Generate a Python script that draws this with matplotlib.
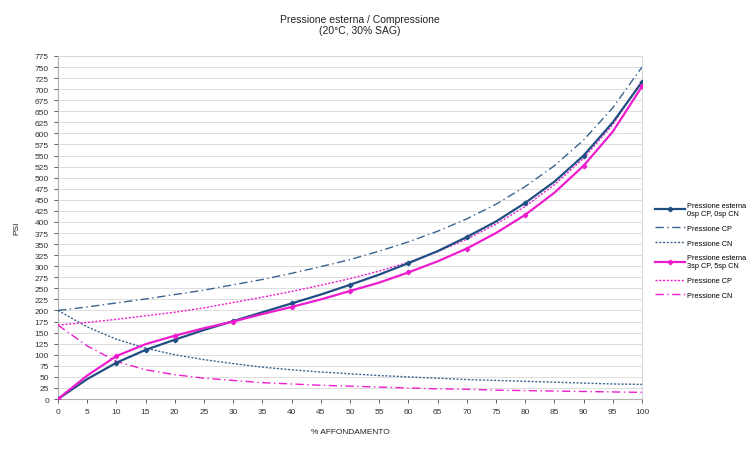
import matplotlib
matplotlib.use("Agg")
import matplotlib.pyplot as plt

plt.rcParams['font.family'] = ['Liberation Sans Narrow', 'Liberation Sans', 'DejaVu Sans']

x = [0, 5, 10, 15, 20, 25, 30, 35, 40, 45, 50, 55, 60, 65, 70, 75, 80, 85, 90, 95, 100]

blue_main = [0, 45, 82, 111, 134, 156, 176, 196, 216, 236, 258, 281, 307, 334, 366, 401, 443, 491, 550, 625, 716]
blue_cp = [200, 208, 217, 226, 236, 246, 258, 270, 284, 299, 315, 334, 355, 379, 407, 440, 480, 527, 585, 658, 750]
blue_cn = [200, 163, 135, 115, 100, 89, 80, 72, 66, 61, 57, 53, 50, 47, 44, 42, 40, 38, 36, 34, 33]

pink_main = [0, 53, 97, 124, 143, 160, 175, 192, 208, 225, 244, 263, 286, 311, 340, 375, 416, 466, 527, 604, 706]
pink_cp = [167, 173, 180, 188, 196, 206, 218, 230, 243, 257, 272, 289, 309, 333, 361, 395, 435, 484, 544, 620, 720]
pink_cn = [167, 120, 85, 66, 55, 47, 42, 37, 34, 31, 29, 27, 25, 23, 22, 20, 19, 18, 17, 16, 15]

labels = ["Pressione esterna\n0sp CP, 0sp CN", "Pressione CP", "Pressione CN",
          "Pressione esterna\n3sp CP, 5sp CN", "Pressione CP", "Pressione CN"]

x_ticks = list(range(0, 101, 5))
y_ticks = list(range(0, 776, 25))

blue = '#1f4f82'
blue2 = '#3a648f'
pink = '#ee1ccf'

fig = plt.figure(figsize=(7.5, 4.52), dpi=100)
ax = fig.add_axes([0.0773, 0.115, 0.7787, 0.759])

blue_marks = [i for i, v in enumerate(x) if v % 10 == 0 or v == 15]
pink_marks = [i for i, v in enumerate(x) if v % 10 == 0]

ax.plot(x, blue_main, color=blue, lw=1.6, marker='D', ms=2.3, markevery=blue_marks, label=labels[0], zorder=5)
ax.plot(x, blue_cp, color=blue2, lw=1.0, ls=(0, (6, 2.5, 1, 2.5)), label=labels[1], zorder=4)
ax.plot(x, blue_cn, color=blue2, lw=1.0, ls=(0, (1.5, 1.2)), label=labels[2], zorder=4)
ax.plot(x, pink_main, color=pink, lw=1.6, marker='D', ms=2.3, markevery=pink_marks, label=labels[3], zorder=5)
ax.plot(x, pink_cp, color=pink, lw=1.0, ls=(0, (1.5, 1.2)), label=labels[4], zorder=4)
ax.plot(x, pink_cn, color=pink, lw=1.0, ls=(0, (6, 2.5, 1, 2.5)), label=labels[5], zorder=4)

ax.set_xlim(0, 100)
ax.set_ylim(0, 775)
ax.set_xticks(x_ticks)
ax.set_yticks(y_ticks)
ax.tick_params(labelsize=6, colors='#444444', length=3, width=0.6, direction='out')
for lab in ax.get_xticklabels() + ax.get_yticklabels():
    lab.set_color('#333333')
ax.grid(axis='y', color='#dddddd', lw=0.7)
ax.set_axisbelow(True)
for s in ['left', 'bottom']:
    ax.spines[s].set_color('#b0b0b0')
    ax.spines[s].set_linewidth(0.8)
for s in ['top', 'right']:
    ax.spines[s].set_color('#d8d8d8')
    ax.spines[s].set_linewidth(0.8)

ax.set_xlabel("% AFFONDAMENTO", fontsize=6, color='#222222', labelpad=9)
ax.set_ylabel("PSI", fontsize=6, color='#222222', labelpad=10)
fig.text(0.48, 0.944, "Pressione esterna / Compressione\n(20°C, 30% SAG)", ha='center', va='center',
         fontsize=7.5, color='#222222', linespacing=1.2)

leg = ax.legend(loc='upper left', bbox_to_anchor=(1.022, 0.575), fontsize=5.3, frameon=False,
                handlelength=4.1, handletextpad=0.2, labelspacing=1.05, borderaxespad=0, borderpad=0)

fig.savefig("out.png", dpi=100)
